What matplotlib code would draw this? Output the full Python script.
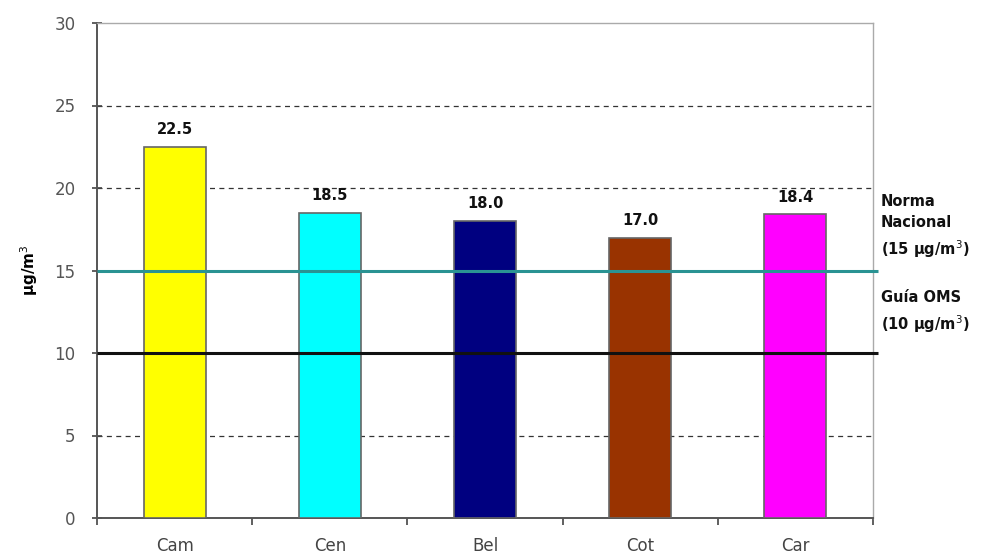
import matplotlib
matplotlib.use("Agg")
import matplotlib.pyplot as plt

# Annual PM2.5 concentration by station
stations = ["Cam", "Cen", "Bel", "Cot", "Car"]
values = [22.5, 18.5, 18.0, 17.0, 18.4]
bar_colors = ["#ffff00", "#00ffff", "#000080", "#993300", "#ff00ff"]
norma_nacional = 15
guia_oms = 10
y_ticks = [0, 5, 10, 15, 20, 25, 30]

plt.rcParams["font.family"] = ["DejaVu Sans"]
plt.rcParams["mathtext.fontset"] = "dejavusans"

fig = plt.figure(figsize=(9.86, 5.56), dpi=100)
W, H = 986, 556
ax = fig.add_axes([97 / W, 1 - 518 / H, (873 - 97) / W, (518 - 23) / H])

x = list(range(len(stations)))
ax.set_xlim(-0.5, len(stations) - 0.5)
ax.set_ylim(0, 30)

# dashed horizontal gridlines
for t in y_ticks[1:-1]:
    ax.axhline(t, color="#333333", lw=0.9, ls=(0, (4, 3.5)), zorder=1)

bars = ax.bar(x, values, width=0.4, color=bar_colors, edgecolor="#666666",
              linewidth=1.2, zorder=3)

for xi, v in zip(x, values):
    ax.text(xi, v + 0.6, f"{v:.1f}", ha="center", va="bottom",
            fontsize=10.5, fontweight="bold", color="#111111", zorder=5)

# reference limits
ax.plot([-0.5, 4.53], [norma_nacional] * 2, color="#2a9393", lw=2.2,
        zorder=4, clip_on=False, solid_capstyle="butt")
ax.plot([-0.5, 4.53], [guia_oms] * 2, color="#111111", lw=2.2,
        zorder=4, clip_on=False, solid_capstyle="butt")

ax.set_yticks(y_ticks)
ax.set_yticklabels([str(t) for t in y_ticks], fontsize=12, color="#555555")
ax.set_xticks(x)
ax.set_xticklabels(stations, fontsize=12, color="#444444")
ax.tick_params(axis="x", length=0, pad=14)
ax.set_xticks([i + 0.5 for i in range(-1, len(stations))], minor=True)
ax.tick_params(axis="x", which="minor", length=5, width=1.2, color="#444444",
               direction="out")
ax.tick_params(axis="y", length=7, width=1.2, color="#444444",
               direction="inout", pad=12)

for side in ["left", "bottom"]:
    ax.spines[side].set_color("#555555")
    ax.spines[side].set_linewidth(1.4)
for side in ["top", "right"]:
    ax.spines[side].set_color("#aaaaaa")
    ax.spines[side].set_linewidth(1.0)

ax.set_ylabel(r"µg/m$^{3}$", fontsize=11, fontweight="bold", labelpad=10)

# side annotations
tx = 881 / W
fig.text(tx, 1 - 194 / H, "Norma\nNacional\n(15 µg/m$^{3}$)", ha="left",
         va="top", fontsize=10.5, fontweight="bold", color="#111111",
         linespacing=1.5)
fig.text(tx, 1 - 290 / H, "Guía OMS\n(10 µg/m$^{3}$)", ha="left",
         va="top", fontsize=10.5, fontweight="bold", color="#111111",
         linespacing=1.5)

fig.savefig("out.png", dpi=100)
